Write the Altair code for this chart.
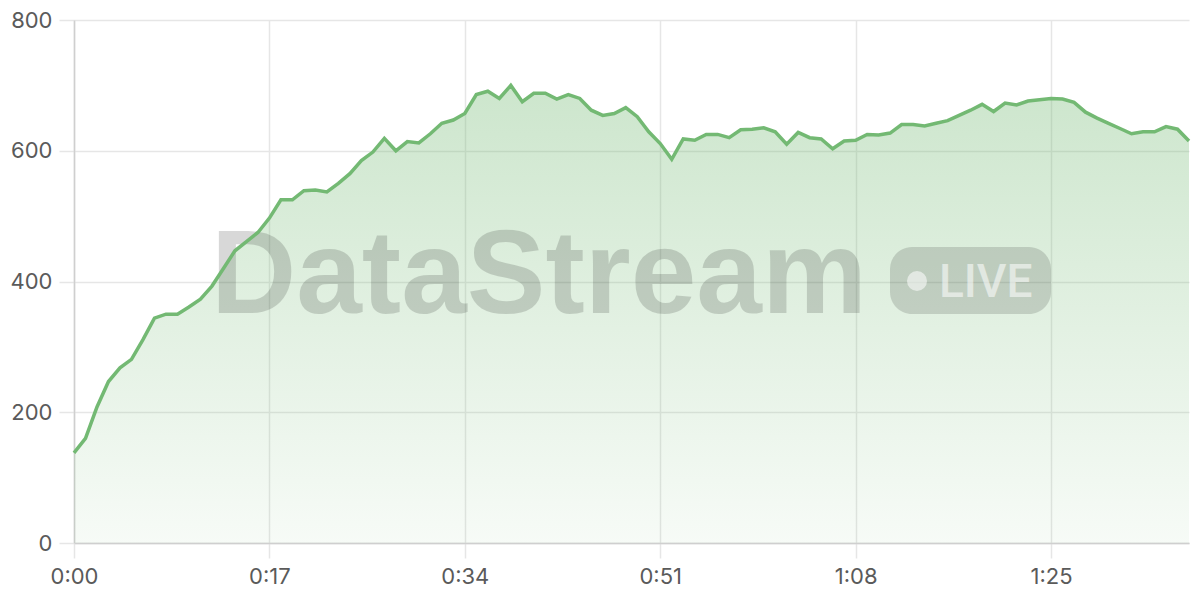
import altair as alt
import pandas as pd

# ---- data ----
seconds = list(range(98))
values = [
    138, 160, 208, 247, 268, 281, 311, 344, 350, 350,
    361, 373, 393, 420, 447, 461, 475, 497, 525, 525,
    539, 540, 537, 550, 565, 585, 598, 619, 600, 614,
    612, 626, 642, 647, 657, 686, 691, 680, 700, 675,
    688, 688, 679, 686, 680, 662, 654, 657, 666, 652,
    629, 611, 587, 618, 616, 625, 625, 620, 632, 633,
    635, 629, 610, 628, 620, 618, 603, 615, 616, 625,
    624, 627, 640, 640, 638, 642, 646, 654, 662, 671,
    660, 673, 670, 676, 678, 680, 679, 674, 659, 650,
    642, 634, 626, 629, 629, 637, 633, 615,
]
x_ticks = [0, 17, 34, 51, 68, 85]
y_ticks = [0, 200, 400, 600, 800]
watermark_title = ["DataStream"]
watermark_badge = ["LIVE"]

df = pd.DataFrame({"t": seconds, "v": values})

W, H = 1115, 523
GREEN = "#73b973"

x_enc = alt.X(
    "t:Q",
    scale=alt.Scale(domain=[0, 97], nice=False, zero=False),
    axis=alt.Axis(
        values=x_ticks,
        title=None,
        labelExpr="floor(datum.value/60) + ':' + (datum.value % 60 < 10 ? '0' : '') + (datum.value % 60)",
        labelPadding=8,
        labelFlush=False,
    ),
)
y_enc = alt.Y(
    "v:Q",
    scale=alt.Scale(domain=[0, 800], nice=False),
    axis=alt.Axis(values=y_ticks, title=None, labelPadding=7),
)

gradient = alt.Gradient(
    gradient="linear",
    stops=[
        alt.GradientStop(color="rgba(115,185,115,0.36)", offset=0),
        alt.GradientStop(color="rgba(115,185,115,0.06)", offset=1),
    ],
    x1=0, x2=0, y1=0, y2=1,
)

area = alt.Chart(df).mark_area(color=gradient, interpolate="linear").encode(x=x_enc, y=y_enc)

wm_text = alt.Chart(pd.DataFrame({"label": watermark_title})).mark_text(
    font="Liberation Sans", fontWeight="bold", fontSize=118,
    align="left", baseline="alphabetic", color="#000000", opacity=0.15,
).encode(x=alt.value(137), y=alt.value(293), text="label:N")

badge_box = alt.Chart(pd.DataFrame({"label": watermark_badge})).mark_rect(
    color="#000000", opacity=0.14, cornerRadius=22,
).encode(x=alt.value(816), x2=alt.value(977), y=alt.value(227), y2=alt.value(294))

badge_dot = alt.Chart(pd.DataFrame({"label": watermark_badge})).mark_point(
    shape="circle", filled=True, size=400, color="#ffffff", opacity=0.55,
).encode(x=alt.value(843), y=alt.value(261))

badge_text = alt.Chart(pd.DataFrame({"label": watermark_badge})).mark_text(
    font="Roboto", fontWeight=500, fontSize=46, align="left", baseline="alphabetic",
    color="#ffffff", opacity=0.55,
).encode(x=alt.value(865), y=alt.value(277), text="label:N")

line = alt.Chart(df).mark_line(color=GREEN, strokeWidth=3.5, interpolate="linear").encode(
    x=x_enc, y=y_enc
)

chart = (
    alt.layer(area, wm_text, badge_box, badge_dot, badge_text, line)
    .properties(
        width=W,
        height=H,
        autosize="none",
        padding={"left": 66, "top": 12, "right": 3, "bottom": 45},
    )
    .configure_view(stroke=None)
    .configure_axis(
        grid=True,
        gridColor="#e6e6e6",
        gridWidth=1.5,
        domainColor="#cfcfcf",
        domainWidth=1.5,
        tickColor="#e6e6e6",
        tickWidth=1.5,
        tickSize=15,
        labelFont="Inter",
        labelFontSize=22,
        labelColor="#5a5a5a",
    )
)

chart.save("out.html", embed_options={"renderer": "svg", "actions": False})
